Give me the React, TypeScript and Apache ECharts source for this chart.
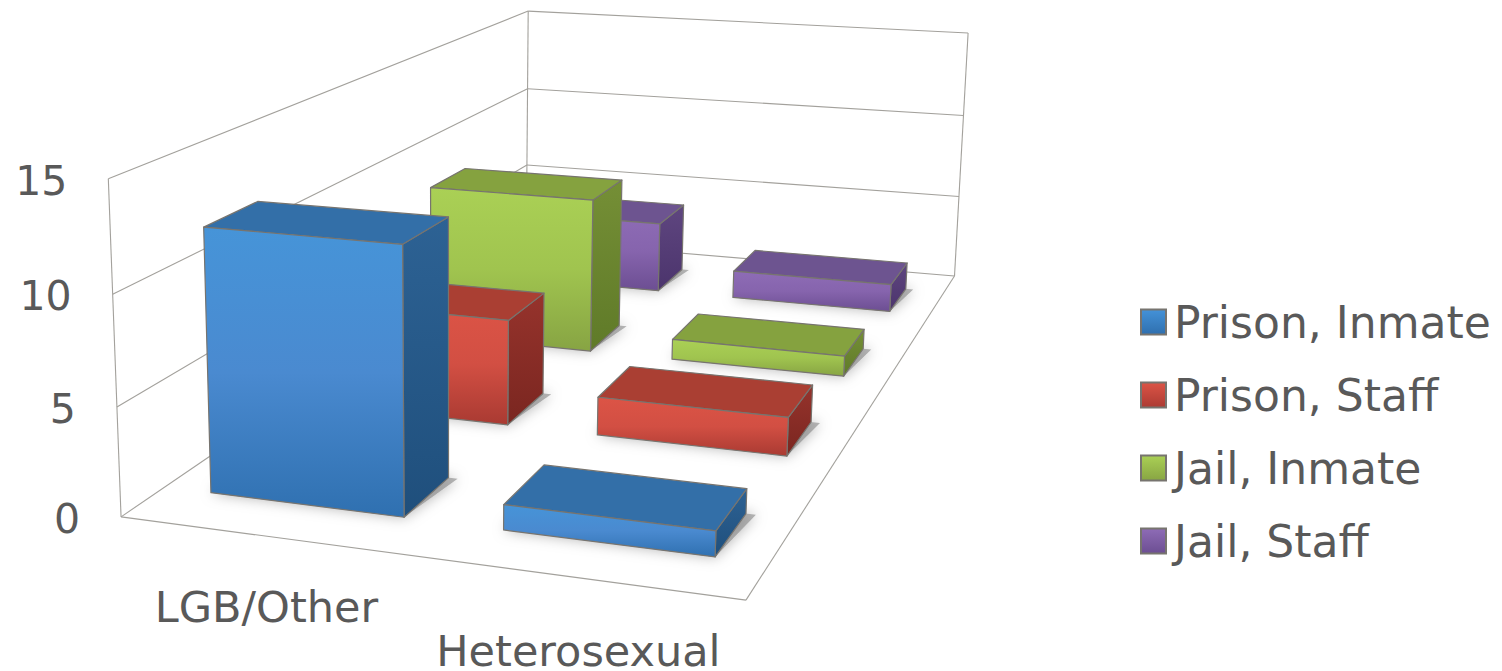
import React, { useEffect, useRef } from "react";
import * as echarts from "echarts";

const categories = ["LGB/Other", "Heterosexual"];
const seriesNames = ["Prison, Inmate", "Prison, Staff", "Jail, Inmate", "Jail, Staff"];
const prisonInmate = [12.2, 1.15];
const prisonStaff = [5.3, 1.9];
const jailInmate = [8.4, 1.1];
const jailStaff = [4.1, 1.6];
const tickValues = [0, 5, 10, 15];
const seriesValues = [prisonInmate, prisonStaff, jailInmate, jailStaff];

const AXIS_MAX = 15;
const FONT = '"DejaVu Sans", Verdana, sans-serif';
const TEXT = "#595959";
const WALL = "#a3a19c";
const EDGE = "#77746f";

// Screen anchors of the plot box: [u, v, h, x, y]
const anchors = [
  [0, 0, 0, 121, 517], [1, 0, 0, 746, 600], [1, 1, 0, 955, 276], [0, 1, 0, 526, 240],
  [0, 0, 1, 108, 179], [0, 1, 1, 528, 11], [1, 1, 1, 968, 33],
  [0, 0, 2 / 3, 113, 294], [0, 1, 2 / 3, 528, 89], [1, 1, 2 / 3, 964, 115],
  [0, 1, 1 / 3, 527, 165], [1, 1, 1 / 3, 958, 197],
];

function solveCamera(): number[] {
  const A: number[][] = [];
  const b: number[] = [];
  anchors.forEach(([u, v, h, x, y]) => {
    A.push([u, v, h, 1, 0, 0, 0, 0, -x * u, -x * v, -x * h]);
    b.push(x);
    A.push([0, 0, 0, 0, u, v, h, 1, -y * u, -y * v, -y * h]);
    b.push(y);
  });
  const n = 11;
  const M: number[][] = [];
  for (let i = 0; i < n; i++) {
    const row: number[] = [];
    for (let j = 0; j < n; j++) {
      let s = 0;
      A.forEach((r) => (s += r[i] * r[j]));
      row.push(s);
    }
    let t = 0;
    A.forEach((r, k) => (t += r[i] * b[k]));
    row.push(t);
    M.push(row);
  }
  for (let c = 0; c < n; c++) {
    let p = c;
    for (let r = c + 1; r < n; r++) if (Math.abs(M[r][c]) > Math.abs(M[p][c])) p = r;
    [M[c], M[p]] = [M[p], M[c]];
    for (let r = 0; r < n; r++) {
      if (r === c) continue;
      const f = M[r][c] / M[c][c];
      for (let k = c; k <= n; k++) M[r][k] -= f * M[c][k];
    }
  }
  return M.map((r, i) => r[n] / r[i]);
}

const cam = solveCamera();
function project(u: number, v: number, value: number): number[] {
  const h = value / AXIS_MAX;
  const w = cam[8] * u + cam[9] * v + cam[10] * h + 1;
  return [
    (cam[0] * u + cam[1] * v + cam[2] * h + cam[3]) / w,
    (cam[4] * u + cam[5] * v + cam[6] * h + cam[7]) / w,
  ];
}

const palettes = [
  { front: ["#4694d8", "#4a8ad0", "#2f70b0"], top: "#336fa8", side: ["#2d6294", "#1f4f7c"], swatch: ["#4492d8", "#2f6fae"] },
  { front: ["#dc5446", "#d24f43", "#a93a32"], top: "#aa3f33", side: ["#96332c", "#7a2620"], swatch: ["#dc5446", "#ac3b33"] },
  { front: ["#aad055", "#a0c44f", "#87a443"], top: "#85a23f", side: ["#758f36", "#5f7a28"], swatch: ["#aad055", "#88a543"] },
  { front: ["#8e6cb6", "#8664ad", "#6c4e92"], top: "#6d5490", side: ["#5f4680", "#4b346c"], swatch: ["#8e6cb6", "#6c4e92"] },
];

const CAT_W = 1 / categories.length;
const SER_D = 1 / seriesNames.length;
const BAR_W = CAT_W * 0.67;
const BAR_D = SER_D * 0.4;

function vgrad(stops: string[]) {
  return new echarts.graphic.LinearGradient(0, 0, 0, 1, stops.map((color, i) => ({ offset: i / (stops.length - 1), color })));
}

function barRenderer(seriesIndex: number) {
  const pal = palettes[seriesIndex];
  return (_p: any, api: any) => {
    const cat = api.value(0);
    const val = api.value(1);
    const uc = (cat + 0.5) * CAT_W;
    const vc = (seriesIndex + 0.5) * SER_D;
    const u0 = uc - BAR_W / 2, u1 = uc + BAR_W / 2;
    const v0 = vc - BAR_D / 2, v1 = vc + BAR_D / 2;
    const fl = project(u0, v0, 0), fr = project(u1, v0, 0), br = project(u1, v1, 0);
    const tfl = project(u0, v0, val), tfr = project(u1, v0, val), tbr = project(u1, v1, val), tbl = project(u0, v1, val);
    const shadow = [project(u0, v0, 0), project(u1, v0, 0), project(u1 + 0.016, v1, 0), project(u0, v1, 0)];
    const edge = { stroke: EDGE, lineWidth: 1.2, lineJoin: "round" };
    return {
      type: "group",
      silent: true,
      children: [
        { type: "polygon", shape: { points: shadow }, style: { fill: "rgba(110,110,110,0.5)", shadowBlur: 14, shadowColor: "rgba(0,0,0,0.6)" } },
        { type: "polygon", shape: { points: [tfr, tbr, br, fr] }, style: { fill: vgrad(pal.side), ...edge } },
        { type: "polygon", shape: { points: [tfl, tbl, tbr, tfr] }, style: { fill: pal.top, ...edge } },
        { type: "polygon", shape: { points: [tfl, tfr, fr, fl] }, style: { fill: vgrad(pal.front), ...edge } },
      ],
    };
  };
}

function wallRenderer(_p: any, api: any) {
  const tick = api.value(0);
  const a = project(0, 0, tick), b = project(0, 1, tick), c = project(1, 1, tick);
  const line = (p: number[], q: number[]) => ({
    type: "line",
    shape: { x1: p[0], y1: p[1], x2: q[0], y2: q[1] },
    style: { stroke: WALL, lineWidth: 1.1 },
  });
  return {
    type: "group",
    silent: true,
    children: [
      line(a, b),
      line(b, c),
      {
        type: "text",
        style: { text: String(tick), x: a[0] - 41, y: a[1] + 2, align: "right", verticalAlign: "middle", fill: TEXT, fontFamily: FONT, fontSize: 41 },
      },
    ],
  };
}

function frameRenderer() {
  const line = (p: number[], q: number[]) => ({
    type: "line",
    shape: { x1: p[0], y1: p[1], x2: q[0], y2: q[1] },
    style: { stroke: WALL, lineWidth: 1.1 },
  });
  return {
    type: "group",
    silent: true,
    children: [
      line(project(0, 0, 0), project(0, 0, AXIS_MAX)),
      line(project(0, 1, 0), project(0, 1, AXIS_MAX)),
      line(project(1, 1, 0), project(1, 1, AXIS_MAX)),
      line(project(0, 0, 0), project(1, 0, 0)),
      line(project(1, 0, 0), project(1, 1, 0)),
    ],
  };
}

function categoryRenderer(_p: any, api: any) {
  const i = api.value(0);
  const p = project((i + 0.5) * CAT_W, 0, 0);
  return {
    type: "text",
    silent: true,
    style: { text: categories[i], x: p[0], y: p[1] + 71 + i * 2, align: "center", verticalAlign: "middle", fill: TEXT, fontFamily: FONT, fontSize: 43 },
  };
}

export default function App() {
  const ref = useRef<HTMLDivElement>(null);
  useEffect(() => {
    const chart = echarts.init(ref.current!, undefined, { renderer: "svg" });
    chart.setOption({
      animation: false,
      backgroundColor: "#ffffff",
      legend: {
        orient: "vertical",
        left: 1140,
        top: 298,
        padding: 0,
        itemWidth: 25,
        itemHeight: 25,
        itemGap: 25,
        icon: "rect",
        selectedMode: false,
        textStyle: { fontFamily: FONT, fontSize: 44, color: TEXT, lineHeight: 48, padding: [0, 0, 0, 3] },
        data: seriesNames.map((name, i) => ({
          name,
          itemStyle: { color: vgrad(palettes[i].swatch), borderColor: EDGE, borderWidth: 2 },
        })),
      },
      series: [
        { type: "custom", coordinateSystem: "none", z: 1, silent: true, clip: false, data: tickValues.map((t) => [t]), renderItem: wallRenderer },
        { type: "custom", coordinateSystem: "none", z: 1, silent: true, clip: false, data: [[0]], renderItem: frameRenderer },
        { type: "custom", coordinateSystem: "none", z: 1, silent: true, clip: false, data: categories.map((_c, i) => [i]), renderItem: categoryRenderer },
        ...seriesNames.map((name, s) => ({
          type: "custom",
          name,
          coordinateSystem: "none",
          z: 10 - s,
          clip: false,
          silent: true,
          itemStyle: { color: palettes[s].front[0] },
          data: seriesValues[s].map((v, c) => [c, v]),
          renderItem: barRenderer(s),
        })),
      ],
    });
    return () => chart.dispose();
  }, []);
  return <div ref={ref} style={{ position: "absolute", left: 0, top: 0, width: 1502, height: 671 }} />;
}
